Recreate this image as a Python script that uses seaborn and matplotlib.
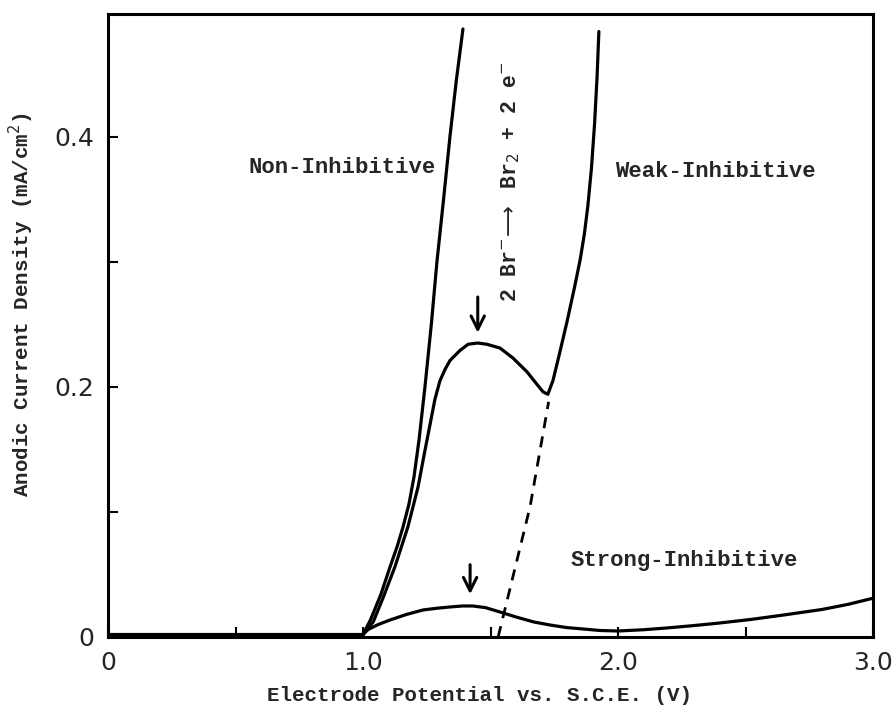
import numpy as np
import pandas as pd
import matplotlib
matplotlib.use("Agg")
import matplotlib.pyplot as plt
import seaborn as sns

# ---- data ----
base_x = [0.0, 1.0]
base_y = [0.002, 0.002]

non_x = [1.0, 1.03, 1.07, 1.106, 1.135, 1.157, 1.18, 1.20, 1.22, 1.243, 1.268, 1.29, 1.316,
         1.341, 1.366, 1.392]
non_y = [0.002, 0.014, 0.034, 0.056, 0.073, 0.088, 0.106, 0.128, 0.158, 0.200, 0.250, 0.300,
         0.350, 0.400, 0.445, 0.486]

weak_x = [1.0, 1.04, 1.08, 1.125, 1.176, 1.216, 1.24, 1.263, 1.282, 1.302, 1.322, 1.341, 1.380,
          1.412, 1.450, 1.486, 1.537, 1.588, 1.643, 1.682, 1.706, 1.725, 1.745, 1.77, 1.80,
          1.83, 1.852, 1.868, 1.882, 1.896, 1.908, 1.918, 1.925]
weak_y = [0.002, 0.012, 0.032, 0.056, 0.088, 0.120, 0.146, 0.170, 0.190, 0.205, 0.214, 0.221, 0.229,
          0.234, 0.235, 0.234, 0.231, 0.223, 0.212, 0.202, 0.196, 0.194, 0.205, 0.226, 0.252,
          0.280, 0.302, 0.322, 0.345, 0.375, 0.410, 0.448, 0.484]

strong_x = [1.0, 1.02, 1.06, 1.106, 1.17, 1.235, 1.29, 1.341, 1.39, 1.43, 1.48, 1.537, 1.60,
            1.67, 1.733, 1.80, 1.863, 1.93, 2.0, 2.1, 2.19, 2.29, 2.39, 2.52, 2.65, 2.80,
            2.90, 2.98, 3.0]
strong_y = [0.002, 0.006, 0.010, 0.0136, 0.018, 0.0216, 0.023, 0.024, 0.0248, 0.0248, 0.0235,
            0.020, 0.016, 0.012, 0.0096, 0.0075, 0.0064, 0.0052, 0.0048, 0.0058, 0.0072,
            0.009, 0.011, 0.014, 0.0176, 0.022, 0.026, 0.030, 0.031]

dash_x = [1.53, 1.655, 1.728]
dash_y = [0.0, 0.104, 0.188]

x_ticks = [0.0, 0.5, 1.0, 1.5, 2.0, 2.5, 3.0]
x_ticklabels = ["0", "", "1.0", "", "2.0", "", "3.0"]
y_ticks = [0.0, 0.1, 0.2, 0.3, 0.4]
y_ticklabels = ["0", "", "0.2", "", "0.4"]

# ---- style ----
sns.set_style("ticks")
plt.rcParams["font.family"] = ["Liberation Mono", "DejaVu Sans"]

fig = plt.figure(figsize=(8.96, 7.22), dpi=100)
ax = fig.add_axes([108 / 896, 1 - 637 / 722, (873 - 108) / 896, (637 - 14) / 722])

lw = 2.3
for xs, ys in [(base_x, base_y), (non_x, non_y), (weak_x, weak_y), (strong_x, strong_y)]:
    df = pd.DataFrame({"x": xs, "y": ys})
    sns.lineplot(data=df, x="x", y="y", ax=ax, color="black", lw=lw,
                 estimator=None, sort=False, solid_joinstyle="round",
                 solid_capstyle="round")
df = pd.DataFrame({"x": dash_x, "y": dash_y})
sns.lineplot(data=df, x="x", y="y", ax=ax, color="black", lw=2.0,
             estimator=None, sort=False, linestyle=(0, (4, 3)))

# arrows marking peaks
ax.annotate("", xy=(1.45, 0.241), xytext=(1.45, 0.274),
            arrowprops=dict(arrowstyle="->", lw=2.2, color="black", mutation_scale=24))
ax.annotate("", xy=(1.42, 0.032), xytext=(1.42, 0.060),
            arrowprops=dict(arrowstyle="->", lw=2.2, color="black", mutation_scale=24))

# annotations
tkw = dict(ha="center", va="center", fontsize=16, fontweight="bold")
ax.text(0.92, 0.375, "Non-Inhibitive", **tkw)
ax.text(2.38, 0.372, "Weak-Inhibitive", **tkw)
ax.text(2.26, 0.061, "Strong-Inhibitive", **tkw)
ax.text(1.578, 0.364, r"2 Br$^{-}\!\longrightarrow$ Br$_2$ + 2 e$^{-}$", rotation=90,
        ha="center", va="center", fontsize=15.5, fontweight="bold")

ax.set_xlim(0, 3.0)
ax.set_ylim(0, 0.498)
ax.set_xticks(x_ticks)
ax.set_xticklabels(x_ticklabels, fontsize=18, family="DejaVu Sans")
ax.set_yticks(y_ticks)
ax.set_yticklabels(y_ticklabels, fontsize=18, family="DejaVu Sans")
ax.tick_params(direction="in", length=7, width=1.5, pad=10, color="black")

for s in ax.spines.values():
    s.set_linewidth(2.2)
    s.set_color("black")

ax.set_xlabel("Electrode Potential vs. S.C.E. (V)", fontsize=15, fontweight="bold")
ax.set_ylabel(r"Anodic Current Density (mA/cm$^2$)", fontsize=15, fontweight="bold")
ax.xaxis.set_label_coords(0.485, -0.078)
ax.yaxis.set_label_coords(-0.094, 0.533)

fig.savefig("out.png", dpi=100)
